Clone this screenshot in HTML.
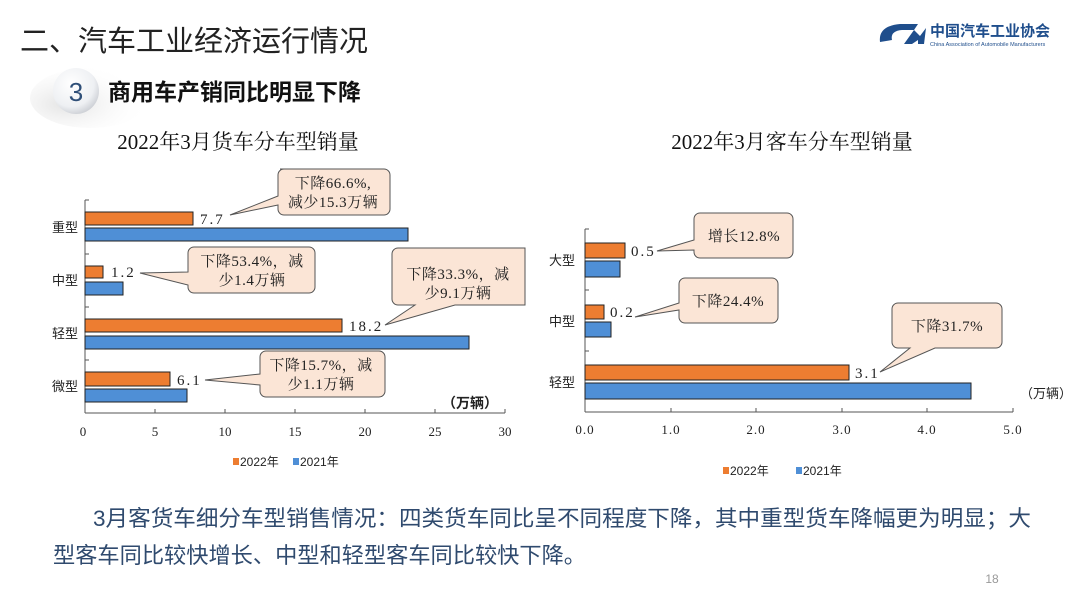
<!DOCTYPE html>
<html><head><meta charset="utf-8">
<style>
html,body{margin:0;padding:0;background:#fff;}
svg{display:block;}
.s{font-family:"Liberation Serif","Noto Serif CJK SC",serif;}
.n{font-family:"Liberation Sans","Noto Sans CJK SC",sans-serif;}
</style></head>
<body>
<svg width="1080" height="604" viewBox="0 0 1080 604" xmlns="http://www.w3.org/2000/svg">
<defs>
<radialGradient id="cg" cx="0.4" cy="0.35" r="0.7">
<stop offset="0" stop-color="#ffffff"/><stop offset="0.7" stop-color="#eef0f3"/><stop offset="1" stop-color="#c9ccd2"/>
</radialGradient>
<radialGradient id="sh" cx="0.3" cy="0.6" r="0.7"><stop offset="0" stop-color="#d0d0d0" stop-opacity="0.6"/><stop offset="1" stop-color="#fff" stop-opacity="0"/></radialGradient>
</defs>
<rect width="1080" height="604" fill="#fff"/>
<text x="20" y="51" class="n" font-size="29" fill="#222">二、汽车工业经济运行情况</text>
<ellipse cx="90" cy="98" rx="60" ry="30" fill="url(#sh)"/>
<circle cx="76" cy="91" r="23" fill="url(#cg)"/>
<text x="76" y="101" class="n" font-size="26" fill="#2f4f78" text-anchor="middle">3</text>
<text x="108" y="100" class="n" font-size="23" font-weight="bold" fill="#111">商用车产销同比明显下降</text>
<path d="M880 42 Q878 26 900 24 L918 24 L914 30 L902 30 Q890 31 892 40 Z" fill="#1f4e8c"/>
<path d="M904 44 L914 30 L920 36 L926 28 L924 44 L918 44 L918 40 L912 44 Z" fill="#1f4e8c"/>
<text x="930" y="36" class="n" font-size="15" font-weight="bold" fill="#1f4e8c">中国汽车工业协会</text>
<text x="930" y="46" class="n" font-size="5.5" fill="#1f4e8c">China Association of Automobile Manufacturers</text>

<text x="238" y="149" class="s" font-size="21" fill="#111" text-anchor="middle">2022年3月货车分车型销量</text>
<g stroke="#555" stroke-width="1" fill="none">
<line x1="85" y1="200" x2="85" y2="413"/>
<line x1="85" y1="413" x2="505" y2="413"/>
<line x1="85" y1="200" x2="89" y2="200"/><line x1="85" y1="254" x2="89" y2="254"/><line x1="85" y1="307" x2="89" y2="307"/><line x1="85" y1="360" x2="89" y2="360"/>
<line x1="155" y1="413" x2="155" y2="409"/><line x1="225" y1="413" x2="225" y2="409"/><line x1="295" y1="413" x2="295" y2="409"/><line x1="365" y1="413" x2="365" y2="409"/><line x1="435" y1="413" x2="435" y2="409"/><line x1="505" y1="413" x2="505" y2="409"/>
</g>
<g class="s" font-size="13" fill="#222" text-anchor="middle">
<text x="83" y="436">0</text><text x="155" y="436">5</text><text x="225" y="436">10</text><text x="295" y="436">15</text><text x="365" y="436">20</text><text x="435" y="436">25</text><text x="505" y="436">30</text>
</g>
<g class="n" font-size="13" fill="#222" text-anchor="end">
<text x="78" y="232">重型</text><text x="78" y="285">中型</text><text x="78" y="338">轻型</text><text x="78" y="391">微型</text>
</g>
<g stroke="#222" stroke-width="1">
<rect x="85" y="212" width="108" height="13" fill="#ed7d31"/><rect x="85" y="228" width="323" height="13" fill="#4f8fd6"/>
<rect x="85" y="266" width="18" height="12" fill="#ed7d31"/><rect x="85" y="282" width="38" height="13" fill="#4f8fd6"/>
<rect x="85" y="319" width="257" height="13" fill="#ed7d31"/><rect x="85" y="336" width="384" height="13" fill="#4f8fd6"/>
<rect x="85" y="372" width="85" height="14" fill="#ed7d31"/><rect x="85" y="389" width="102" height="13" fill="#4f8fd6"/>
</g>
<g class="s" font-size="15" fill="#222" letter-spacing="2">
<text x="200" y="224">7.7</text><text x="111" y="277">1.2</text><text x="349" y="331">18.2</text><text x="177" y="385">6.1</text>
</g>
<text x="498" y="408" class="n" font-size="14" font-weight="bold" fill="#222" text-anchor="end">（万辆）</text>
<g fill="#fbe5d6" stroke="#555" stroke-width="1">
<path d="M280 169 H384 a6 6 0 0 1 6 6 V209 a6 6 0 0 1 -6 6 H284 a6 6 0 0 1 -6 -6 V205 L230 215 L278 196 V175 a6 6 0 0 1 6 -6 Z"/>
<path d="M194 247 H309 a6 6 0 0 1 6 6 V287 a6 6 0 0 1 -6 6 H194 a6 6 0 0 1 -6 -6 V285 L140 273 L188 272 V253 a6 6 0 0 1 6 -6 Z"/>
<path d="M398 248 H525 V305 H455 L385 325 L415 305 H398 a6 6 0 0 1 -6 -6 V254 a6 6 0 0 1 6 -6 Z"/>
<path d="M266 351 H379 a6 6 0 0 1 6 6 V391 a6 6 0 0 1 -6 6 H266 a6 6 0 0 1 -6 -6 V385 L205 380 L260 374 V357 a6 6 0 0 1 6 -6 Z"/>
</g>
<g class="s" font-size="15" fill="#222" text-anchor="middle" letter-spacing="0.5">
<text x="333" y="188">下降66.6%,</text><text x="333" y="207">减少15.3万辆</text>
<text x="252" y="266">下降53.4%，减</text><text x="252" y="285">少1.4万辆</text>
<text x="458" y="279">下降33.3%，减</text><text x="458" y="298">少9.1万辆</text>
<text x="321" y="370">下降15.7%，减</text><text x="321" y="389">少1.1万辆</text>
</g>
<g class="n" font-size="12" fill="#222">
<rect x="233" y="458" width="6" height="7" fill="#ed7d31"/><text x="240" y="466">2022年</text>
<rect x="293" y="458" width="6" height="7" fill="#4f8fd6"/><text x="300" y="466">2021年</text>
</g>

<text x="792" y="149" class="s" font-size="21" fill="#111" text-anchor="middle">2022年3月客车分车型销量</text>
<g stroke="#555" stroke-width="1" fill="none">
<line x1="585" y1="229" x2="585" y2="412"/>
<line x1="585" y1="412" x2="1013" y2="412"/>
<line x1="585" y1="229" x2="589" y2="229"/><line x1="585" y1="290" x2="589" y2="290"/><line x1="585" y1="351" x2="589" y2="351"/>
<line x1="671" y1="412" x2="671" y2="408"/><line x1="756" y1="412" x2="756" y2="408"/><line x1="842" y1="412" x2="842" y2="408"/><line x1="927" y1="412" x2="927" y2="408"/><line x1="1013" y1="412" x2="1013" y2="408"/>
</g>
<g class="s" font-size="13" fill="#222" text-anchor="middle" letter-spacing="1">
<text x="585" y="434">0.0</text><text x="671" y="434">1.0</text><text x="756" y="434">2.0</text><text x="842" y="434">3.0</text><text x="927" y="434">4.0</text><text x="1013" y="434">5.0</text>
</g>
<g class="n" font-size="13" fill="#222" text-anchor="end">
<text x="575" y="265">大型</text><text x="575" y="326">中型</text><text x="575" y="387">轻型</text>
</g>
<g stroke="#222" stroke-width="1">
<rect x="585" y="243" width="40" height="15" fill="#ed7d31"/><rect x="585" y="261" width="35" height="16" fill="#4f8fd6"/>
<rect x="585" y="305" width="19" height="14" fill="#ed7d31"/><rect x="585" y="322" width="26" height="15" fill="#4f8fd6"/>
<rect x="585" y="365" width="264" height="15" fill="#ed7d31"/><rect x="585" y="383" width="386" height="16" fill="#4f8fd6"/>
</g>
<g class="s" font-size="15" fill="#222" letter-spacing="2">
<text x="631" y="256">0.5</text><text x="610" y="317">0.2</text><text x="855" y="378">3.1</text>
</g>
<text x="1072" y="398" class="n" font-size="13" fill="#222" text-anchor="end">（万辆）</text>
<g fill="#fbe5d6" stroke="#555" stroke-width="1">
<path d="M700 213 H787 a6 6 0 0 1 6 6 V252 a6 6 0 0 1 -6 6 H700 a6 6 0 0 1 -6 -6 V250 L657 251 L694 240 V219 a6 6 0 0 1 6 -6 Z"/>
<path d="M685 278 H772 a6 6 0 0 1 6 6 V317 a6 6 0 0 1 -6 6 H685 a6 6 0 0 1 -6 -6 V310 L635 317 L679 303 V284 a6 6 0 0 1 6 -6 Z"/>
<path d="M898 303 H996 a6 6 0 0 1 6 6 V342 a6 6 0 0 1 -6 6 H935 L880 372 L910 348 H898 a6 6 0 0 1 -6 -6 V309 a6 6 0 0 1 6 -6 Z"/>
</g>
<g class="s" font-size="15" fill="#222" text-anchor="middle" letter-spacing="0.5">
<text x="744" y="241">增长12.8%</text>
<text x="728" y="306">下降24.4%</text>
<text x="947" y="331">下降31.7%</text>
</g>
<g class="n" font-size="12" fill="#222">
<rect x="723" y="467" width="6" height="7" fill="#ed7d31"/><text x="730" y="475">2022年</text>
<rect x="796" y="467" width="6" height="7" fill="#4f8fd6"/><text x="803" y="475">2021年</text>
</g>

<g class="n" font-size="22" fill="#2f4a6e">
<text x="93" y="526" textLength="938" lengthAdjust="spacingAndGlyphs">3月客货车细分车型销售情况：四类货车同比呈不同程度下降，其中重型货车降幅更为明显；大</text>
<text x="53" y="563" textLength="533" lengthAdjust="spacingAndGlyphs">型客车同比较快增长、中型和轻型客车同比较快下降。</text>
</g>
<text x="992" y="583" class="n" font-size="12" fill="#999" text-anchor="middle">18</text>
</svg>
</body></html>
